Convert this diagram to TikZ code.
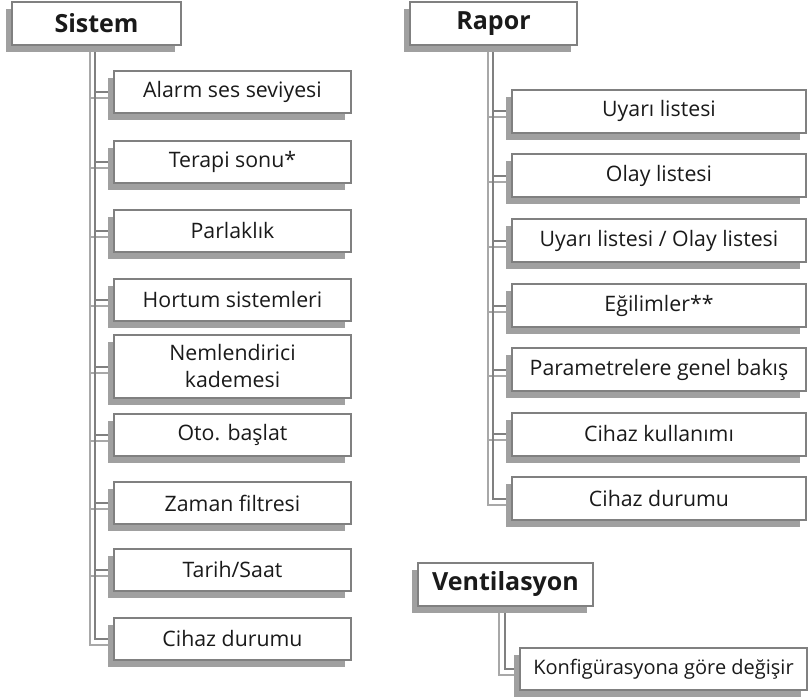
\documentclass[tikz,border=0pt]{standalone}
\usepackage{fontspec}
\setmainfont{Open Sans}
\usetikzlibrary{shadows,backgrounds}
\definecolor{boxline}{HTML}{808080}
\definecolor{shade}{HTML}{A0A0A0}
\definecolor{lineA}{HTML}{A8A8A8}
\definecolor{lineB}{HTML}{808080}
\definecolor{txt}{HTML}{1A1A1A}
\begin{document}
\begin{tikzpicture}[x=1pt,y=-1pt,
  basebox/.style={draw=boxline, line width=2pt, fill=white, inner sep=0pt, text=txt,
    drop shadow={shadow xshift=-6pt, shadow yshift=-7pt, fill=shade, opacity=1}},
  titlebox/.style={basebox, font=\fontsize{25}{29}\selectfont\bfseries, minimum height=43pt},
  leftitem/.style={basebox, font=\fontsize{21.3}{27}\selectfont, minimum width=237pt, minimum height=42pt, align=center},
  rightitem/.style={basebox, font=\fontsize{21.3}{27}\selectfont, minimum width=294pt, minimum height=43pt, align=center},
  outerline/.style={draw=lineA, line width=2pt},
  innerline/.style={draw=lineB, line width=2pt}
]
\useasboundingbox (0,0) rectangle (809,697);

% Sistem tree
\node[titlebox, minimum width=169pt] (sistem) at (96.5,23.5) {Sistem};
\node[leftitem] (s1) at (232.5,92) {Alarm ses seviyesi};
\node[leftitem] (s2) at (232.5,162) {Terapi sonu*};
\node[leftitem] (s3) at (232.5,230.5) {Parlaklık};
\node[leftitem] (s4) at (232.5,300) {Hortum sistemleri};
\node[leftitem, minimum height=63pt] (s5) at (232.5,366.5) {Nemlendirici\\kademesi};
\node[leftitem] (s6) at (232.5,435) {Oto. başlat};
\node[leftitem] (s7) at (232.5,503) {Zaman filtresi};
\node[leftitem] (s8) at (232.5,570) {Tarih/Saat};
\node[leftitem] (s9) at (232.5,638.5) {Cihaz durumu};

% Rapor tree
\node[titlebox, minimum width=167pt] (rapor) at (493.5,23.5) {Rapor};
\node[rightitem] (r1) at (659,111) {Uyarı listesi};
\node[rightitem] (r2) at (659,175.5) {Olay listesi};
\node[rightitem] (r3) at (659,240.5) {Uyarı listesi / Olay listesi};
\node[rightitem] (r4) at (659,305.5) {Eğilimler**};
\node[rightitem] (r5) at (659,369.5) {Parametrelere genel bakış};
\node[rightitem] (r6) at (659,434) {Cihaz kullanımı};
\node[rightitem] (r7) at (659,498.5) {Cihaz durumu};

% Ventilasyon tree
\node[titlebox, minimum width=175pt] (vent) at (505.5,584) {Ventilasyon};
\node[basebox, font=\fontsize{20}{24}\selectfont, minimum width=287pt, minimum height=42pt] (v1) at (663.5,669) {Konfigürasyona göre değişir};

\begin{scope}[on background layer]
  \foreach \n in {s1,s2,s3,s4,s5,s6,s7,s8,s9}{
    \draw[outerline] ([xshift=-6.5pt]sistem.south) |- ([yshift=-6pt]\n.west);
    \draw[innerline] ([xshift=-1.5pt]sistem.south) |- (\n.west);
  }
  \foreach \n in {r1,r2,r3,r4,r5,r6,r7}{
    \draw[outerline] ([xshift=-5.5pt]rapor.south) |- ([yshift=-6pt]\n.west);
    \draw[innerline] ([xshift=-0.5pt]rapor.south) |- (\n.west);
  }
  \draw[outerline] ([xshift=-6.5pt]vent.south) |- ([yshift=-6pt]v1.west);
  \draw[innerline] ([xshift=-0.5pt]vent.south) |- (v1.west);
\end{scope}
\end{tikzpicture}
\end{document}
